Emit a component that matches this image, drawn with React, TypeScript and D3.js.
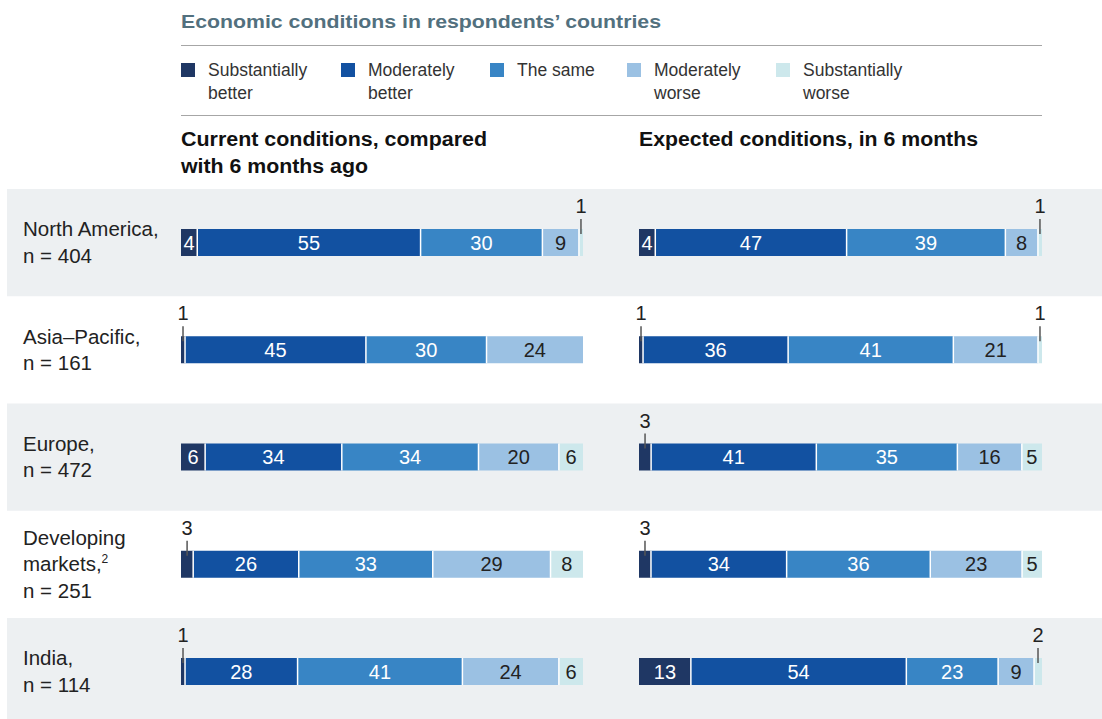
import React from "react";
import * as d3 from "d3";

const categories = ["Substantially better", "Moderately better", "The same", "Moderately worse", "Substantially worse"];
const legendLines = [["Substantially", "better"], ["Moderately", "better"], ["The same"], ["Moderately", "worse"], ["Substantially", "worse"]];
const colors = ["#1f3764", "#1251a1", "#3885c5", "#9bc1e3", "#cde8ec"];
const regions = ["North America", "Asia–Pacific", "Europe", "Developing markets", "India"];
const regionLabels = [["North America,", "n = 404"], ["Asia–Pacific,", "n = 161"], ["Europe,", "n = 472"], ["Developing", "markets,", "n = 251"], ["India,", "n = 114"]];
const currentValues = [
  [4, 55, 30, 9, 1],
  [1, 45, 30, 24, 0],
  [6, 34, 34, 20, 6],
  [3, 26, 33, 29, 8],
  [1, 28, 41, 24, 6],
];
const expectedValues = [
  [4, 47, 39, 8, 1],
  [1, 36, 41, 21, 1],
  [3, 41, 35, 16, 5],
  [3, 34, 36, 23, 5],
  [13, 54, 23, 9, 2],
];
const panelTitles = [["Current conditions, compared", "with 6 months ago"], ["Expected conditions, in 6 months"]];
const panelTitleWidths = [[306, 187], [339]];
const title = "Economic conditions in respondents’ countries";

const FONT = "'Liberation Sans', Arial, Helvetica, sans-serif";

function Bar({ values, x0, x1, y, h }: { values: number[]; x0: number; x1: number; y: number; h: number }) {
  const total = d3.sum(values);
  const x = d3.scaleLinear().domain([0, total]).range([x0, x1]);
  let acc = 0;
  const segs = values.map((v, i) => {
    const s = acc;
    acc += v;
    return { v, i, s, e: acc };
  }).filter((d) => d.v > 0);
  return (
    <g>
      {segs.map((d) => (
        <rect key={"r" + d.i} x={x(d.s)} y={y} width={x(d.e) - x(d.s)} height={h} fill={colors[d.i]} />
      ))}
      {segs.slice(1).map((d) => (
        <line key={"g" + d.i} x1={x(d.s)} x2={x(d.s)} y1={y} y2={y + h} stroke="#fff" strokeWidth={1.5} />
      ))}
      {segs.map((d) => {
        const cx = (x(d.s) + x(d.e)) / 2;
        if (d.v < 4) {
          return (
            <g key={"l" + d.i}>
              <line x1={cx} x2={cx} y1={y - 10} y2={y + 5} stroke="#555" strokeWidth={1.5} />
              <text x={cx} y={y - 16} textAnchor="middle" fontSize={20} fill="#222" fontFamily={FONT}>{d.v}</text>
            </g>
          );
        }
        return (
          <text key={"l" + d.i} x={cx} y={y + h / 2 + 7} textAnchor="middle" fontSize={20} fill={d.i < 3 ? "#fff" : "#222"} fontFamily={FONT}>{d.v}</text>
        );
      })}
    </g>
  );
}

export default function App() {
  const W = 1102, H = 719;
  const left0 = 181, left1 = 583, right0 = 639, right1 = 1042;
  const rows = d3.scaleBand<string>().domain(regions).range([189, 189 + 107.25 * 5]).paddingInner(0);
  const barH = 27;
  const legendX = [181, 341, 490, 627, 776];
  return (
    <div style={{ position: "absolute", left: 0, top: 0 }}>
      <svg width={W} height={H} style={{ display: "block" }} fontFamily={FONT}>
        <rect x={0} y={0} width={W} height={H} fill="#fff" />
        <text x={181} y={28} fontSize={19} fontWeight="bold" fill="#52707e" textLength={480} lengthAdjust="spacingAndGlyphs">{title}</text>
        <line x1={181} x2={1042} y1={45.5} y2={45.5} stroke="#a6a6a6" strokeWidth={1} />
        {categories.map((c, i) => (
          <g key={c}>
            <rect x={legendX[i]} y={63} width={14} height={14} fill={colors[i]} />
            {legendLines[i].map((t, j) => (
              <text key={j} x={legendX[i] + 27} y={76 + j * 23} fontSize={17.5} fill="#333">{t}</text>
            ))}
          </g>
        ))}
        <line x1={181} x2={1042} y1={115.5} y2={115.5} stroke="#a6a6a6" strokeWidth={1} />
        {panelTitles[0].map((t, j) => (
          <text key={"p0" + j} x={181} y={146 + j * 27} fontSize={19.5} fontWeight="bold" fill="#111" textLength={panelTitleWidths[0][j]} lengthAdjust="spacingAndGlyphs">{t}</text>
        ))}
        {panelTitles[1].map((t, j) => (
          <text key={"p1" + j} x={639} y={146 + j * 27} fontSize={19.5} fontWeight="bold" fill="#111" textLength={panelTitleWidths[1][j]} lengthAdjust="spacingAndGlyphs">{t}</text>
        ))}
        {regions.map((r, i) => {
          const y0 = rows(r)!;
          const bh = rows.bandwidth();
          const barY = y0 + 40;
          const lines = regionLabels[i];
          const mid = barY + barH / 2 + 7;
          const lh = 26.5;
          const firstBase = mid - ((lines.length - 1) * lh) / 2;
          return (
            <g key={r}>
              {i % 2 === 0 && <rect x={7} y={y0} width={W - 7} height={i === 4 ? H - y0 : bh} fill="#edf0f2" />}
              {lines.map((t, j) => (
                <text key={j} x={23} y={firstBase + j * lh} fontSize={20.5} fill="#222">
                  {t}
                  {r === "Developing markets" && j === 1 ? <tspan fontSize={12} dy={-8}>2</tspan> : null}
                </text>
              ))}
              <Bar values={currentValues[i]} x0={left0} x1={left1} y={barY} h={barH} />
              <Bar values={expectedValues[i]} x0={right0} x1={right1} y={barY} h={barH} />
            </g>
          );
        })}
      </svg>
    </div>
  );
}
